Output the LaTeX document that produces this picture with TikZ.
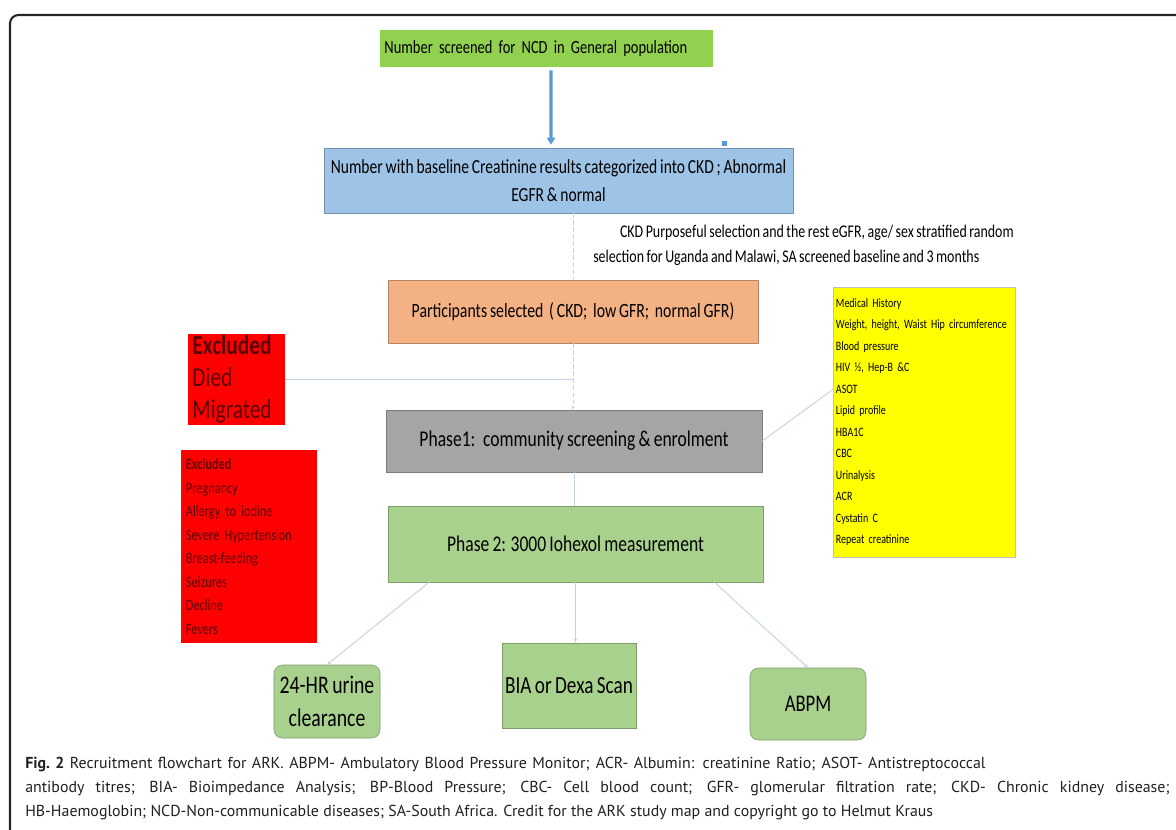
\documentclass[tikz,border=0pt]{standalone}
\usepackage{fontspec}
\setmainfont{Carlito}
\newfontfamily\narrowfont{Carlito}[FakeStretch=0.78,WordSpace=0.8]
\newfontfamily\capfont{PT Sans}
\usetikzlibrary{positioning,calc,arrows.meta}

\definecolor{screengreen}{HTML}{92D050}
\definecolor{creablue}{HTML}{9DC3E6}
\definecolor{selorange}{HTML}{F4B183}
\definecolor{phasegray}{HTML}{A5A5A5}
\definecolor{phasegreen}{HTML}{A9D18E}
\definecolor{exred}{HTML}{FF0000}
\definecolor{extext}{HTML}{5A0000}
\definecolor{testyellow}{HTML}{FFFF00}
\definecolor{arrowblue}{HTML}{5B9BD5}
\definecolor{thinline}{HTML}{C3D3E3}
\definecolor{captext}{HTML}{231F20}

\begin{document}
\begin{tikzpicture}[x=0.025cm,y=-0.025cm,
        box/.style={draw=#1!75!black,fill=#1,line width=0.4pt,inner sep=2pt,
            align=center,font=\narrowfont\fontsize{16}{20}\selectfont},
        exbox/.style={fill=exred,inner xsep=3pt,inner ysep=0pt,align=left,
            text=extext},
        link/.style={thinline,line width=0.7pt},
        tip/.style={-{Stealth[length=3pt,width=2.5pt]}}]

    \useasboundingbox (0,0) rectangle (1176,829);
    % frame
    \draw[line width=1.5pt,black!85,rounded corners=6pt] (10,840) -- (10,15) -- (1190,15);

    % main column
    \node[box=screengreen,draw=none,minimum width=8.325cm,minimum height=0.925cm,
        text width=8.1cm,align=left,font=\narrowfont\fontsize{13.2}{17}\selectfont]
        (screen) at (546.5,48.5) {Number screened for NCD in General population};
    \node[box=creablue,minimum width=11.725cm,minimum height=1.625cm,
        font=\narrowfont\fontsize{14.2}{20}\selectfont]
        (creat) at (558.5,180.5) {Number with baseline Creatinine results categorized into CKD ; Abnormal\\EGFR \& normal};
    \node[box=selorange,minimum width=9.25cm,minimum height=1.575cm,
        font=\narrowfont\fontsize{14.4}{20}\selectfont]
        (select) at (573,311.5) {Participants selected \ ( CKD; \ low GFR; \ normal GFR)};
    \node[box=phasegray,minimum width=9.4cm,minimum height=1.55cm]
        (phase1) at (574,441) {Phase1: \ community screening \& enrolment};
    \node[box=phasegreen,minimum width=9.375cm,minimum height=1.9cm]
        (phase2) at (575.5,544) {Phase 2: 3000 Iohexol measurement};

    % outcome boxes
    \node[box=phasegreen,rounded corners=6pt,minimum width=2.65cm,minimum height=1.825cm,
        font=\narrowfont\fontsize{18}{23}\selectfont]
        (urine) at (327,701.5) {24-HR urine\\clearance};
    \node[box=phasegreen,minimum width=3.35cm,minimum height=2.125cm,
        font=\narrowfont\fontsize{17.5}{20}\selectfont]
        (bia) at (569,685.5) {BIA or Dexa Scan};
    \node[box=phasegreen,rounded corners=6pt,minimum width=2.9cm,minimum height=1.8cm,
        font=\narrowfont\fontsize{17}{20}\selectfont]
        (abpm) at (808,704) {ABPM};

    % exclusions
    \node[exbox,minimum width=2.425cm,minimum height=2.275cm,text width=2.2cm,
        font=\narrowfont\fontsize{19.5}{22.8}\selectfont]
        (died) at (236.5,379.5) {\textbf{Excluded}\\Died\\Migrated};
    \node[exbox,minimum width=3.4cm,minimum height=4.825cm,text width=3.15cm,
        font=\narrowfont\fontsize{11.2}{16.7}\selectfont]
        (criteria) at (249,546.5) {\textbf{Excluded}\\Pregnancy\\Allergy to iodine\\Severe Hypertension\\Breast-feeding\\Seizures\\Decline\\Fevers};

    % tests
    \node[fill=testyellow,draw=black!25,line width=0.3pt,inner xsep=2pt,inner ysep=0pt,
        minimum width=4.55cm,minimum height=6.75cm,text width=4.4cm,align=left,
        font=\narrowfont\fontsize{9.1}{15.3}\selectfont]
        (tests) at (924,422) {Medical History\\Weight, height, Waist Hip circumference\\Blood pressure\\HIV \textonehalf, Hep-B \&C\\ASOT\\Lipid profile\\HBA1C\\CBC\\Urinalysis\\ACR\\Cystatin C\\Repeat creatinine};

    % selection note
    \node[align=left,anchor=west,inner sep=0pt,font=\narrowfont\fontsize{12.7}{17.8}\selectfont]
        (rule) at (593,245.5) {\hspace*{19pt}CKD Purposeful selection and the rest eGFR, age/ sex stratified random\\selection for Uganda and Malawi, SA screened baseline and 3 months};

    \fill[arrowblue] (721.5,140.5) rectangle (727,146);

    % connectors
    \draw[arrowblue,line width=2.2pt,-{Triangle[length=5pt,width=6pt]}]
        ($(screen.south)+(4.5,3)$) -- ($(creat.north)+(-7.5,-3)$);
    \draw[link,densely dashed] (creat.south -| select) -- (select.north);
    \draw[link,densely dashed,tip] (select.south) -- (select.south |- phase1.north);
    \draw[link] (died.east) -- (died.east -| select.south);
    \draw[link] ($(criteria.north east)!0.19!(criteria.south east)$) -- ($(criteria.north east)!0.19!(criteria.south east)$ -| phase1.south);
    \draw[link] (phase1.south) -- (phase1.south |- phase2.north);
    \draw[link] (phase1.east) -- ($(tests.north west)!0.38!(tests.south west)$);
    \draw[link,tip] ($(phase2.south west)!0.11!(phase2.south east)$) -- (urine.north);
    \draw[link,tip] (phase2.south) -- (phase2.south |- bia.north);
    \draw[link,tip] ($(phase2.south west)!0.87!(phase2.south east)$) -- (abpm.north);

    % caption
    \node[anchor=north west,inner sep=0pt,align=left,text=captext,
        font=\capfont\fontsize{11.3}{17}\selectfont]
        (caption) at (25,757) {\makebox[24cm][s]{\mbox{\textbf{Fig. 2}} Recruitment flowchart for ARK. ABPM- Ambulatory Blood Pressure Monitor; ACR- Albumin: creatinine Ratio; ASOT- Antistreptococcal}\\\makebox[28.6cm][s]{antibody titres; BIA- Bioimpedance Analysis; BP-Blood Pressure; CBC- Cell blood count; GFR- glomerular filtration rate; CKD- Chronic kidney disease;}\\HB-Haemoglobin; NCD-Non-communicable diseases; SA-South Africa. Credit for the ARK study map and copyright go to Helmut Kraus};
\end{tikzpicture}
\end{document}
